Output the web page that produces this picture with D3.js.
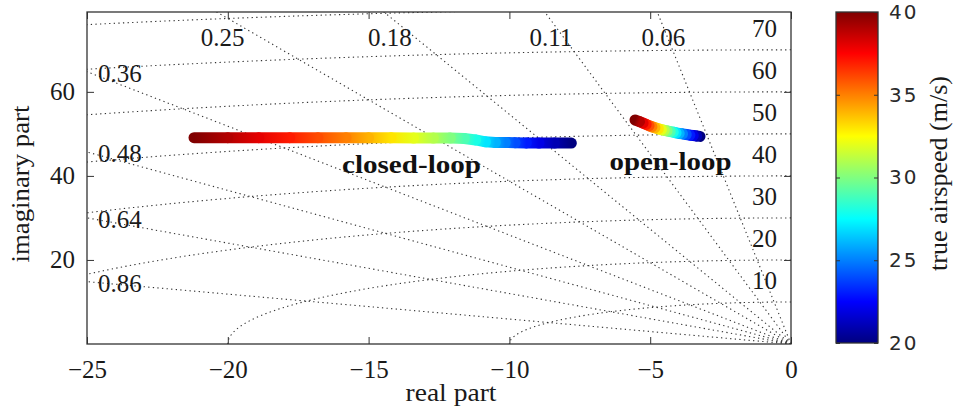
<!DOCTYPE html>
<html>
<head>
<meta charset="utf-8">
<script src="https://cdn.jsdelivr.net/npm/d3@7/dist/d3.min.js"></script>
<style>
  body { margin: 0; background: #fff; }
  svg { display: block; }
</style>
</head>
<body>
<svg id="chart" width="955" height="413"></svg>
<script>
// Pole locations of the lateral mode versus true airspeed (m/s)
const airspeed = [20, 21, 22, 23, 24, 25, 26, 27, 28, 29, 30, 31, 32, 33, 34, 35, 36, 37, 38, 39, 40];

const closedReal = [-7.8, -8.4, -8.95, -9.4, -9.8, -10.15, -10.5, -10.85, -11.2, -11.6, -12.1,
                    -12.7, -13.4, -14.2, -15.0, -15.8, -16.8, -17.8, -18.9, -20.0, -21.2];
const closedImag = [47.8, 47.8, 47.8, 47.85, 47.9, 47.95, 47.95, 48.1, 48.55, 48.9, 49.0,
                    49.0, 49.0, 49.05, 49.05, 49.1, 49.1, 49.1, 49.1, 49.1, 49.1];

const openReal = [-3.23, -3.35, -3.47, -3.59, -3.72, -3.85, -3.97, -4.08, -4.18, -4.29, -4.40,
                  -4.50, -4.60, -4.71, -4.83, -4.94, -5.04, -5.14, -5.25, -5.38, -5.54];
const openImag = [49.4, 49.5, 49.6, 49.7, 49.85, 50.0, 50.1, 50.25, 50.4, 50.55, 50.7,
                  50.85, 51.0, 51.2, 51.45, 51.7, 51.95, 52.25, 52.55, 52.9, 53.3];

// s-plane grid: constant damping rays and constant natural-frequency arcs
const dampingRatios = [0.06, 0.11, 0.18, 0.25, 0.36, 0.48, 0.64, 0.86];
const naturalFreqs = [10, 20, 30, 40, 50, 60, 70, 80];

const xTicks = [-25, -20, -15, -10, -5, 0];
const yTicks = [20, 40, 60];
const colorbarTicks = [20, 25, 30, 35, 40];

const serif = "'Liberation Serif', 'Times New Roman', serif";
const sans = "'DejaVu Sans', sans-serif";
const ink = "#1a1a1a";
const fontSize = 25;

const svg = d3.select("#chart");
svg.append("rect").attr("width", 955).attr("height", 413).attr("fill", "#fff");

const plot = { left: 87, right: 791, top: 12, bottom: 344 };
const xMin = -25, xMax = 0, yMin = 0, yMax = 79;

const x = d3.scaleLinear().domain([xMin, xMax]).range([plot.left, plot.right]);
const y = d3.scaleLinear().domain([yMin, yMax]).range([plot.bottom, plot.top]);

// MATLAB-style jet colormap
function jet(t) {
  const c = v => Math.max(0, Math.min(1, v));
  const r = c(1.5 - Math.abs(4 * t - 3));
  const g = c(1.5 - Math.abs(4 * t - 2));
  const b = c(1.5 - Math.abs(4 * t - 1));
  return d3.rgb(r * 255, g * 255, b * 255).formatHex();
}
const speedToT = d3.scaleLinear().domain([20, 40]).range([0, 1]).clamp(true);
const color = v => jet(speedToT(v));

const defs = svg.append("defs");
defs.append("clipPath").attr("id", "plotClip")
  .append("rect")
  .attr("x", plot.left).attr("y", plot.top)
  .attr("width", plot.right - plot.left).attr("height", plot.bottom - plot.top);

// ---- grid ----
const grid = svg.append("g").attr("clip-path", "url(#plotClip)")
  .attr("fill", "none").attr("stroke", "#333")
  .attr("stroke-width", 1.1).attr("stroke-dasharray", "1.3 3.3");

const lineGen = d3.line().x(d => x(d[0])).y(d => y(d[1]));

dampingRatios.forEach(z => {
  const R = 120;
  grid.append("path").attr("d", lineGen([[0, 0], [-R * z, R * Math.sqrt(1 - z * z)]]));
});

naturalFreqs.forEach(wn => {
  const pts = d3.range(0, 90.25, 0.5).map(a => {
    const r = a * Math.PI / 180;
    return [-wn * Math.sin(r), wn * Math.cos(r)];
  });
  grid.append("path").attr("d", lineGen(pts));
});

// ---- grid labels ----
const labels = svg.append("g").attr("font-family", serif).attr("font-size", fontSize).attr("fill", ink);

dampingRatios.forEach(z => {
  const slope = Math.sqrt(1 - z * z) / z;
  const yLeft = -xMin * slope;
  const txt = z.toFixed(2);
  if (yLeft <= yMax) {
    labels.append("text")
      .attr("x", plot.left + 11).attr("y", y(yLeft) + 2)
      .attr("dominant-baseline", "central")
      .text(txt);
  } else {
    const xCross = -yMax / slope;
    labels.append("text")
      .attr("x", x(xCross) + 6).attr("y", plot.top + 25)
      .attr("text-anchor", "middle").attr("dominant-baseline", "central")
      .text(txt);
  }
});

naturalFreqs.filter(wn => wn < yMax).forEach(wn => {
  labels.append("text")
    .attr("x", plot.right - 14).attr("y", y(wn) - 21)
    .attr("text-anchor", "end").attr("dominant-baseline", "central")
    .text(wn);
});

// ---- pole trajectories, coloured by airspeed ----
function drawTrajectory(reals, imags, key) {
  const g = svg.append("g").attr("clip-path", "url(#plotClip)");
  const pts = airspeed.map((v, i) => ({ v, px: x(reals[i]), py: y(imags[i]) }));
  for (let i = 0; i < pts.length - 1; i++) {
    const a = pts[i], b = pts[i + 1];
    const id = `grad-${key}-${i}`;
    const lg = defs.append("linearGradient").attr("id", id)
      .attr("gradientUnits", "userSpaceOnUse")
      .attr("x1", a.px).attr("y1", a.py).attr("x2", b.px).attr("y2", b.py);
    lg.append("stop").attr("offset", "0%").attr("stop-color", color(a.v));
    lg.append("stop").attr("offset", "100%").attr("stop-color", color(b.v));
    g.append("line")
      .attr("x1", a.px).attr("y1", a.py).attr("x2", b.px).attr("y2", b.py)
      .attr("stroke", `url(#${id})`).attr("stroke-width", 11)
      .attr("stroke-linecap", "round");
  }
}
drawTrajectory(closedReal, closedImag, "cl");
drawTrajectory(openReal, openImag, "ol");

// ---- annotations ----
svg.append("text")
  .attr("x", 411.5).attr("y", 173)
  .attr("text-anchor", "middle")
  .attr("font-family", serif).attr("font-size", 25).attr("font-weight", "bold")
  .attr("fill", "#111")
  .attr("textLength", 139).attr("lengthAdjust", "spacingAndGlyphs")
  .text("closed-loop");
svg.append("text")
  .attr("x", 670.5).attr("y", 170)
  .attr("text-anchor", "middle")
  .attr("font-family", serif).attr("font-size", 25).attr("font-weight", "bold")
  .attr("fill", "#111")
  .attr("textLength", 122).attr("lengthAdjust", "spacingAndGlyphs")
  .text("open-loop");

// ---- axes (ticks inside, boxed) ----
const fmt = d => (d < 0 ? "\u2212" + Math.abs(d) : String(d));
const axisColor = "#333";

const gx = svg.append("g").attr("transform", `translate(0,${plot.bottom})`)
  .call(d3.axisBottom(x).tickValues(xTicks).tickSize(-7).tickPadding(16).tickFormat(fmt));
const gxTop = svg.append("g").attr("transform", `translate(0,${plot.top})`)
  .call(d3.axisTop(x).tickValues(xTicks).tickSize(-7).tickFormat(""));
const gy = svg.append("g").attr("transform", `translate(${plot.left},0)`)
  .call(d3.axisLeft(y).tickValues(yTicks).tickSize(-7).tickPadding(12).tickFormat(fmt));
const gyRight = svg.append("g").attr("transform", `translate(${plot.right},0)`)
  .call(d3.axisRight(y).tickValues(yTicks).tickSize(-7).tickFormat(""));

[gx, gxTop, gy, gyRight].forEach(g => {
  g.select(".domain").remove();
  g.selectAll(".tick line").attr("stroke", axisColor).attr("stroke-width", 1);
  g.selectAll(".tick text").attr("font-family", serif).attr("font-size", fontSize).attr("fill", ink);
});

svg.append("rect")
  .attr("x", plot.left).attr("y", plot.top)
  .attr("width", plot.right - plot.left).attr("height", plot.bottom - plot.top)
  .attr("fill", "none").attr("stroke", axisColor).attr("stroke-width", 1.3);

svg.append("text")
  .attr("x", 451).attr("y", 401)
  .attr("text-anchor", "middle")
  .attr("font-family", serif).attr("font-size", fontSize).attr("fill", ink)
  .attr("textLength", 91).attr("lengthAdjust", "spacingAndGlyphs")
  .text("real part");

svg.append("text")
  .attr("transform", "translate(29,184) rotate(-90)")
  .attr("text-anchor", "middle")
  .attr("font-family", serif).attr("font-size", fontSize).attr("fill", ink)
  .attr("textLength", 157).attr("lengthAdjust", "spacingAndGlyphs")
  .text("imaginary part");

// ---- colorbar ----
const cb = { left: 836, right: 878, top: 12, bottom: 343 };
const cbScale = d3.scaleLinear().domain([20, 40]).range([cb.bottom, cb.top]);

const cbGrad = defs.append("linearGradient").attr("id", "cbGrad")
  .attr("x1", 0).attr("y1", 1).attr("x2", 0).attr("y2", 0);
d3.range(0, 65).forEach(i => {
  const t = i / 64;
  cbGrad.append("stop").attr("offset", `${t * 100}%`).attr("stop-color", jet(t));
});

svg.append("rect")
  .attr("x", cb.left).attr("y", cb.top)
  .attr("width", cb.right - cb.left).attr("height", cb.bottom - cb.top)
  .attr("fill", "url(#cbGrad)");

const cbAxis = svg.append("g").attr("transform", `translate(${cb.right},0)`)
  .call(d3.axisRight(cbScale).tickValues(colorbarTicks).tickSize(-4).tickPadding(11));
cbAxis.select(".domain").remove();
cbAxis.selectAll(".tick line").attr("stroke", axisColor);
cbAxis.selectAll(".tick text")
  .attr("font-family", sans).attr("font-size", 20).attr("fill", "#2a2a2a")
  .attr("letter-spacing", 2);

const cbAxisL = svg.append("g").attr("transform", `translate(${cb.left},0)`)
  .call(d3.axisLeft(cbScale).tickValues(colorbarTicks).tickSize(-4).tickFormat(""));
cbAxisL.select(".domain").remove();
cbAxisL.selectAll(".tick line").attr("stroke", axisColor);

svg.append("rect")
  .attr("x", cb.left).attr("y", cb.top)
  .attr("width", cb.right - cb.left).attr("height", cb.bottom - cb.top)
  .attr("fill", "none").attr("stroke", axisColor).attr("stroke-width", 1.3);

svg.append("text")
  .attr("transform", "translate(947,173.5) rotate(-90)")
  .attr("text-anchor", "middle")
  .attr("font-family", serif).attr("font-size", fontSize).attr("fill", ink)
  .attr("textLength", 195).attr("lengthAdjust", "spacingAndGlyphs")
  .text("true airspeed (m/s)");
</script>
</body>
</html>
